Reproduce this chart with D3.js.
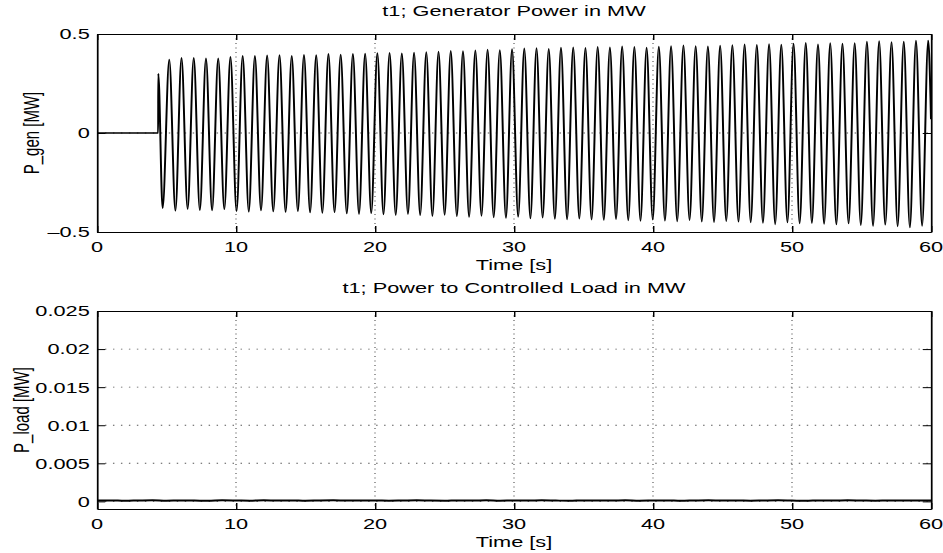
<!DOCTYPE html>
<html>
<head>
<meta charset="utf-8">
<script src="https://cdn.jsdelivr.net/npm/d3@7"></script>
<style>
  html, body { margin: 0; padding: 0; background: #fff; }
  svg { display: block; }
  text { font-family: "Liberation Sans", Arial, Helvetica, sans-serif; fill: #000; }
</style>
</head>
<body>
<div id="chart"></div>
<script>
const xTicks = [0, 10, 20, 30, 40, 50, 60];
const genTicks = [-0.5, 0, 0.5];
const loadTicks = [0, 0.005, 0.01, 0.015, 0.02, 0.025];

// generator power: flat, step at the disturbance, then an oscillation read peak by peak
const genOnset = [[0, 0], [4.40, 0], [4.41, 0.30], [4.72, -0.38]];
const peakTimes = [5.20, 6.08, 6.96, 7.84, 8.72, 9.60, 10.48, 11.36, 12.24, 13.13,
  14.01, 14.89, 15.77, 16.65, 17.53, 18.41, 19.29, 20.17, 21.05, 21.93,
  22.81, 23.69, 24.57, 25.45, 26.33, 27.22, 28.10, 28.98, 29.86, 30.74,
  31.62, 32.50, 33.38, 34.26, 35.14, 36.02, 36.90, 37.78, 38.66, 39.54,
  40.42, 41.30, 42.19, 43.07, 43.95, 44.83, 45.71, 46.59, 47.47, 48.35,
  49.23, 50.11, 50.99, 51.87, 52.75, 53.63, 54.51, 55.39, 56.27, 57.16,
  58.04, 58.92, 59.80];
const peakValues = [0.372, 0.380, 0.381, 0.378, 0.378, 0.386, 0.390, 0.390, 0.393, 0.394,
  0.391, 0.396, 0.394, 0.400, 0.397, 0.400, 0.402, 0.404, 0.406, 0.403,
  0.407, 0.410, 0.412, 0.416, 0.414, 0.418, 0.422, 0.420, 0.425, 0.428,
  0.430, 0.426, 0.432, 0.434, 0.431, 0.436, 0.433, 0.438, 0.436, 0.432,
  0.437, 0.440, 0.444, 0.440, 0.438, 0.442, 0.445, 0.448, 0.446, 0.450,
  0.447, 0.452, 0.456, 0.449, 0.455, 0.452, 0.455, 0.463, 0.465, 0.460,
  0.462, 0.467, 0.468];
const troughTimes = [5.64, 6.52, 7.40, 8.28, 9.16, 10.04, 10.92, 11.80, 12.68, 13.57,
  14.45, 15.33, 16.21, 17.09, 17.97, 18.85, 19.73, 20.61, 21.49, 22.37,
  23.25, 24.13, 25.01, 25.89, 26.77, 27.66, 28.54, 29.42, 30.30, 31.18,
  32.06, 32.94, 33.82, 34.70, 35.58, 36.46, 37.34, 38.22, 39.10, 39.98,
  40.86, 41.74, 42.63, 43.51, 44.39, 45.27, 46.15, 47.03, 47.91, 48.79,
  49.67, 50.55, 51.43, 52.31, 53.19, 54.07, 54.95, 55.83, 56.71, 57.60,
  58.48, 59.36];
const troughValues = [-0.393, -0.384, -0.390, -0.392, -0.386, -0.395, -0.398, -0.392, -0.397, -0.400,
  -0.396, -0.402, -0.404, -0.401, -0.407, -0.410, -0.406, -0.412, -0.415, -0.410,
  -0.416, -0.420, -0.414, -0.421, -0.425, -0.419, -0.427, -0.430, -0.424, -0.432,
  -0.428, -0.435, -0.437, -0.433, -0.438, -0.440, -0.436, -0.442, -0.445, -0.438,
  -0.444, -0.447, -0.441, -0.448, -0.451, -0.446, -0.449, -0.452, -0.455, -0.462,
  -0.453, -0.457, -0.455, -0.460, -0.463, -0.458, -0.466, -0.470, -0.464, -0.472,
  -0.478, -0.470];
const genEnd = [[60, 0.07]];

// controlled load: essentially zero, a thin noisy band (one reading per second)
const loadStep = 1;
const loadValues = [0.00010, 0.00013, 0.00008, 0.00012, 0.00015, 0.00009, 0.00013, 0.00011, 0.00007, 0.00014,
  0.00012, 0.00009, 0.00015, 0.00010, 0.00013, 0.00008, 0.00012, 0.00014, 0.00010, 0.00011,
  0.00013, 0.00009, 0.00012, 0.00015, 0.00010, 0.00008, 0.00013, 0.00011, 0.00014, 0.00009,
  0.00012, 0.00010, 0.00015, 0.00011, 0.00008, 0.00013, 0.00012, 0.00010, 0.00014, 0.00009,
  0.00011, 0.00013, 0.00008, 0.00012, 0.00015, 0.00010, 0.00013, 0.00009, 0.00012, 0.00014,
  0.00011, 0.00008, 0.00013, 0.00010, 0.00015, 0.00012, 0.00009, 0.00013, 0.00011, 0.00010,
  0.00012];

// the original figure was stretched sideways; draw in a narrow frame and scale x
const S = 1.45;
const left = 97 / S;
const right = 931 / S;

const svg = d3.select('#chart').append('svg').attr('width', 943).attr('height', 553);
const root = svg.append('g').attr('transform', `scale(${S},1)`);

const x = d3.scaleLinear().domain([0, 60]).range([left, right]);

function panel({ top, bottom, yDomain, yTicks, yFormat, title, yLabel, labelX, data, lineW }) {
  const y = d3.scaleLinear().domain(yDomain).range([bottom, top]);
  const g = root.append('g');

  // dotted grid
  g.append('g')
    .selectAll('line')
    .data(xTicks.slice(1, -1))
    .join('line')
    .attr('x1', d => x(d)).attr('x2', d => x(d))
    .attr('y1', top).attr('y2', bottom)
    .attr('stroke', '#555').attr('stroke-width', 0.8)
    .attr('stroke-dasharray', '1 3.5');
  g.append('g')
    .selectAll('line')
    .data(yTicks.filter(d => y(d) > top + 1 && y(d) < bottom - 1))
    .join('line')
    .attr('x1', left).attr('x2', right)
    .attr('y1', d => y(d)).attr('y2', d => y(d))
    .attr('stroke', '#555').attr('stroke-width', 0.9)
    .attr('stroke-dasharray', '1 4.5');

  // data line
  const line = d3.line()
    .x(d => x(d[0]))
    .y(d => y(d[1]))
    .curve(d3.curveMonotoneX);
  g.append('path')
    .datum(data)
    .attr('fill', 'none')
    .attr('stroke', '#000')
    .attr('stroke-width', lineW)
    .attr('stroke-linejoin', 'round')
    .attr('d', line);

  // axes, ticks pointing inward on all four sides
  const tickLen = 6;
  const xAxisB = d3.axisBottom(x).tickValues(xTicks).tickSize(-tickLen).tickFormat('');
  const xAxisT = d3.axisTop(x).tickValues(xTicks).tickSize(-tickLen).tickFormat('');
  const yAxisL = d3.axisLeft(y).tickValues(yTicks).tickSize(-tickLen * 0.95).tickFormat('');
  const yAxisR = d3.axisRight(y).tickValues(yTicks).tickSize(-tickLen * 0.95).tickFormat('');
  const axes = [
    [xAxisB, `translate(0,${bottom})`],
    [xAxisT, `translate(0,${top})`],
    [yAxisL, `translate(${left},0)`],
    [yAxisR, `translate(${right},0)`]
  ];
  axes.forEach(([ax, tr]) => {
    const a = g.append('g').attr('transform', tr).call(ax.tickSizeOuter(0));
    a.selectAll('.domain').attr('stroke', '#000').attr('stroke-width', 1.2);
    a.selectAll('.tick line').attr('stroke', '#000').attr('stroke-width', 1);
  });

  // tick labels
  g.append('g')
    .selectAll('text')
    .data(xTicks)
    .join('text')
    .attr('x', d => x(d))
    .attr('y', bottom + 20)
    .attr('text-anchor', 'middle')
    .attr('font-size', 15)
    .text(d => d);
  g.append('g')
    .selectAll('text')
    .data(yTicks)
    .join('text')
    .attr('x', left - 5)
    .attr('y', d => y(d))
    .attr('dy', '0.36em')
    .attr('text-anchor', 'end')
    .attr('font-size', 15)
    .text(yFormat);

  g.append('text')
    .attr('x', (left + right) / 2)
    .attr('y', bottom + 38)
    .attr('text-anchor', 'middle')
    .attr('font-size', 15)
    .text('Time [s]');

  g.append('text')
    .attr('x', (left + right) / 2)
    .attr('y', top - 18)
    .attr('text-anchor', 'middle')
    .attr('font-size', 15)
    .text(title);

  g.append('text')
    .attr('transform', `translate(${labelX},${(top + bottom) / 2}) rotate(-90)`)
    .attr('text-anchor', 'middle')
    .attr('font-size', 15)
    .text(yLabel);
}

const genSwing = peakTimes.map((t, i) => [t, peakValues[i]])
  .concat(troughTimes.map((t, i) => [t, troughValues[i]]))
  .sort((a, b) => a[0] - b[0]);
const genData = genOnset.concat(genSwing, genEnd);

const loadData = loadValues.map((v, i) => [i * loadStep, v]);

panel({
  top: 34, bottom: 232,
  yDomain: [-0.5, 0.5], yTicks: genTicks,
  yFormat: d => (d < 0 ? '\u2013' + Math.abs(d) : String(d)),
  title: 't1; Generator Power in MW',
  yLabel: 'P_gen [MW]', labelX: 27,
  data: genData, lineW: 1.35
});

panel({
  top: 311, bottom: 509,
  yDomain: [-0.001, 0.025], yTicks: loadTicks,
  yFormat: d => String(d),
  title: 't1; Power to Controlled Load in MW',
  yLabel: 'P_load [MW]', labelX: 20,
  data: loadData, lineW: 2
});
</script>
</body>
</html>
